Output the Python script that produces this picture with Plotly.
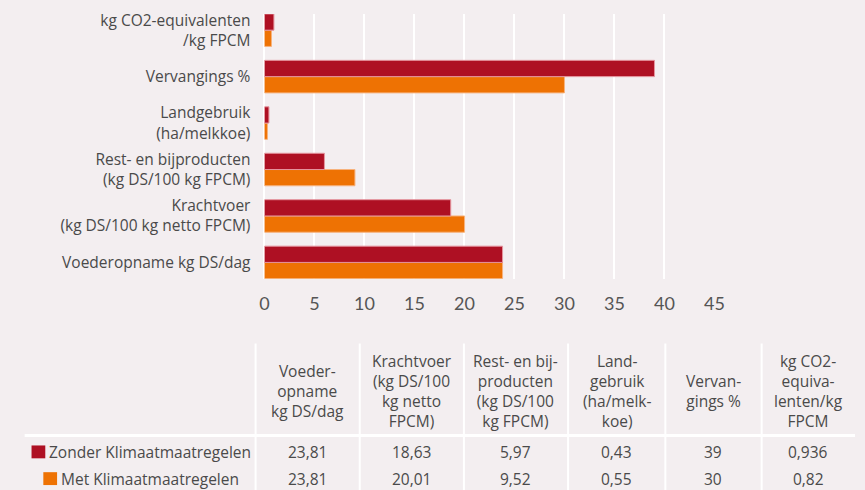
import plotly.graph_objects as go

W, H = 865, 490

categories = [
    "Voederopname kg DS/dag",
    "Krachtvoer<br>(kg DS/100 kg netto FPCM)",
    "Rest- en bijproducten<br>(kg DS/100 kg FPCM)",
    "Landgebruik<br>(ha/melkkoe)",
    "Vervangings %",
    "kg CO2-equivalenten<br>/kg FPCM",
]
series_names = ["Zonder Klimaatmaatregelen", "Met Klimaatmaatregelen"]
zonder_bars = [23.81, 18.63, 6.0, 0.45, 39, 0.95]
met_bars = [23.81, 20.01, 9.05, 0.3, 30, 0.7]
x_ticks = [0, 5, 10, 15, 20, 25, 30, 35, 40, 45]

table_headers = [
    "Voeder-<br>opname<br>kg DS/dag",
    "Krachtvoer<br>(kg DS/100<br>kg netto<br>FPCM)",
    "Rest- en bij-<br>producten<br>(kg DS/100<br>kg FPCM)",
    "Land-<br>gebruik<br>(ha/melk-<br>koe)",
    "Vervan-<br>gings %",
    "kg CO2-<br>equiva-<br>lenten/kg<br>FPCM",
]
zonder_table = ["23,81", "18,63", "5,97", "0,43", "39", "0,936"]
met_table = ["23,81", "20,01", "9,52", "0,55", "30", "0,82"]

RED = "#AE1023"
ORANGE = "#EE7203"
BG = "#F3EEF0"
TXT = "#4A4A4A"
FONT = "Open Sans"
TICKFONT = "Lato"
FS = 15.5

def px(x):
    return x / W

def py(y):
    return 1 - y / H

fig = go.Figure()
# orange first so that red sits on top within each group
fig.add_trace(go.Bar(
    y=categories, x=met_bars, orientation="h", name=series_names[1],
    marker=dict(color=ORANGE, line=dict(color="#F7B27C", width=1)),
))
fig.add_trace(go.Bar(
    y=categories, x=zonder_bars, orientation="h", name=series_names[0],
    marker=dict(color=RED, line=dict(color="#E5949E", width=1)),
))

fig.update_layout(
    width=W, height=H,
    margin=dict(l=0, r=0, t=0, b=0),
    paper_bgcolor=BG, plot_bgcolor=BG,
    barmode="group", bargap=0.3, bargroupgap=0,
    showlegend=False,
    font=dict(family=FONT, color=TXT, size=FS),
    xaxis=dict(
        domain=[px(264), px(722)], range=[0, 45],
        tickvals=x_ticks, ticktext=[str(t) for t in x_ticks],
        showgrid=True, gridcolor="#FFFFFF", gridwidth=2,
        zeroline=True, zerolinecolor="#FFFFFF", zerolinewidth=2,
        showline=False, ticks="", ticklabelstandoff=12,
        tickfont=dict(size=18, color="#555555", family=TICKFONT),
        fixedrange=True,
    ),
    yaxis=dict(
        domain=[py(276.5), py(9)], range=[-0.35, 5.35],
        type="category",
        showgrid=False, zeroline=False, showline=False, ticks="",
        ticklabelstandoff=13,
        tickfont=dict(size=FS, color=TXT, family=FONT),
        fixedrange=True,
    ),
)

annotations = []
shapes = []

# table grid lines
col_edges = [255, 361, 467, 573, 672, 770, 865]
for xe in col_edges[:-1]:
    shapes.append(dict(type="line", xref="paper", yref="paper",
                       x0=px(xe), x1=px(xe), y0=py(342), y1=py(490),
                       line=dict(color="#FFFFFF", width=2)))
shapes.append(dict(type="line", xref="paper", yref="paper",
                   x0=px(20), x1=px(865), y0=py(435), y1=py(435),
                   line=dict(color="#FFFFFF", width=3)))

ROW1_Y, ROW2_Y = 451.5, 478.5
col_centers = [(col_edges[i] + col_edges[i + 1]) / 2 for i in range(6)]
for c, head, z, m in zip(col_centers, table_headers, zonder_table, met_table):
    annotations.append(dict(x=px(c), y=py(390), xref="paper", yref="paper",
                            text=head, showarrow=False, xanchor="center",
                            yanchor="middle", font=dict(size=FS, color=TXT)))
    annotations.append(dict(x=px(c), y=py(ROW1_Y), xref="paper", yref="paper",
                            text=z, showarrow=False, xanchor="center",
                            yanchor="middle", font=dict(size=FS, color=TXT)))
    annotations.append(dict(x=px(c), y=py(ROW2_Y), xref="paper", yref="paper",
                            text=m, showarrow=False, xanchor="center",
                            yanchor="middle", font=dict(size=FS, color=TXT)))

# legend rows in table
legend_rows = [(series_names[0], RED, 27, 445, 43, ROW1_Y),
               (series_names[1], ORANGE, 39, 472, 55, ROW2_Y)]
for name, col, sx, sy, tx, ty in legend_rows:
    shapes.append(dict(type="rect", xref="paper", yref="paper",
                       x0=px(sx), x1=px(sx + 14), y0=py(sy + 13), y1=py(sy),
                       fillcolor=col, line=dict(width=0)))
    annotations.append(dict(x=px(tx), y=py(ty), xref="paper", yref="paper",
                            text=name, showarrow=False, xanchor="left",
                            yanchor="middle", font=dict(size=FS, color=TXT)))

fig.update_layout(annotations=annotations, shapes=shapes)
fig.write_html(
    "out.html",
    config={"displayModeBar": False},
    post_script="document.body.style.margin='0';document.body.style.overflow='hidden';",
)
